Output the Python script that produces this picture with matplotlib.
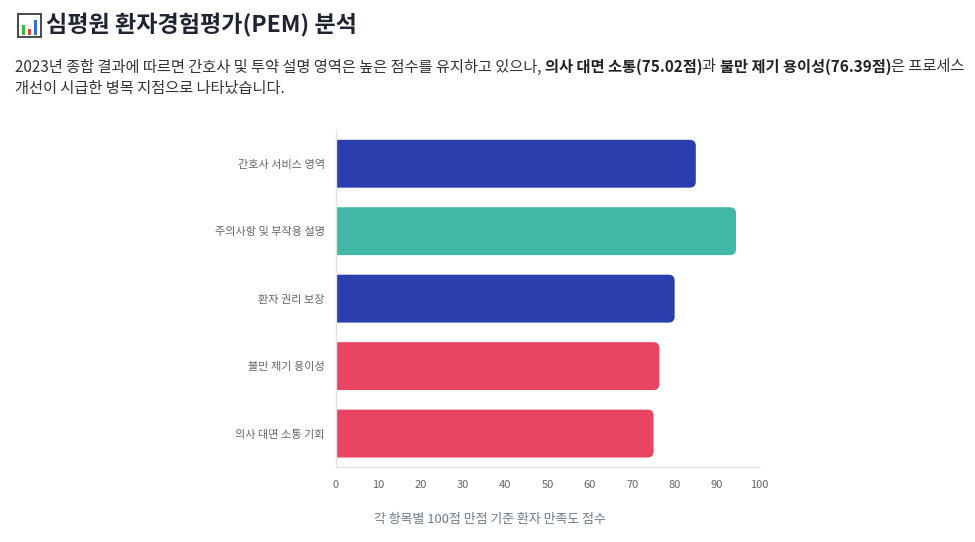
import matplotlib
matplotlib.use('Agg')
import matplotlib.pyplot as plt
from matplotlib.patches import FancyBboxPatch, Rectangle

categories = ['간호사 서비스 영역', '주의사항 및 부작용 설명', '환자 권리 보장',
              '불만 제기 용이성', '의사 대면 소통 기회']
scores = [85.0, 94.5, 80.0, 76.39, 75.02]
bar_colors = ['#2a3fad', '#41b8a5', '#2a3fad', '#e94462', '#e94462']
xticks = list(range(0, 101, 10))
title = '심평원 환자경험평가(PEM) 분석'
xlabel = '각 항목별 100점 만점 기준 환자 만족도 점수'
subtitle_line1 = [
    ('2023년 종합 결과에 따르면 간호사 및 투약 설명 영역은 높은 점수를 유지하고 있으나, ', 'normal'),
    ('의사 대면 소통(75.02점)', 'bold'),
    ('과 ', 'normal'),
    ('불만 제기 용이성(76.39점)', 'bold'),
    ('은 프로세스', 'normal'),
]
subtitle_line2 = [('개선이 시급한 병목 지점으로 나타났습니다.', 'normal')]

FAM = ['Noto Sans CJK KR', 'DejaVu Sans']
plt.rcParams['font.family'] = FAM

W, H = 975, 542
fig = plt.figure(figsize=(W / 100, H / 100), dpi=100)
fig.patch.set_facecolor('white')

ax_l, ax_r, ax_t, ax_b = 336, 759.3, 130, 467.3
ax = fig.add_axes([ax_l / W, (H - ax_b) / H, (ax_r - ax_l) / W, (ax_b - ax_t) / H])

ypos = list(range(len(categories)))
bars = ax.barh(ypos, scores, height=0.71, color=bar_colors)
ax.set_xlim(0, 100)
ax.set_ylim(len(categories) - 0.5, -0.5)

# rounded right corners (left rounding falls outside the axes and is clipped)
xpp = 100 / (ax_r - ax_l)
ypp = len(categories) / (ax_b - ax_t)
asp = ypp / xpp
r = 6 * xpp
for b, c in zip(bars, bar_colors):
    x0, y0 = b.get_x(), b.get_y()
    w, h = b.get_width(), b.get_height()
    b.set_visible(False)
    fb = FancyBboxPatch((x0 - 3 * r, y0), w + 3 * r, h,
                        boxstyle=f'round,pad=0,rounding_size={r}',
                        mutation_aspect=asp, facecolor=c, edgecolor='none', zorder=2)
    ax.add_patch(fb)

ax.set_yticks(ypos)
ax.set_yticklabels(categories)
ax.set_xticks(xticks)
ax.set_xticklabels([str(t) for t in xticks])
ax.tick_params(axis='both', length=0, labelsize=8, labelcolor='#666666')
ax.tick_params(axis='y', pad=8)
ax.tick_params(axis='x', pad=9)
for s in ['top', 'right']:
    ax.spines[s].set_visible(False)
for s in ['left', 'bottom']:
    ax.spines[s].set_color('#e3e3e3')
    ax.spines[s].set_linewidth(1)
    ax.spines[s].set_zorder(3)

fig.text(490 / W, 1 - 520 / H, xlabel, ha='center', va='center', fontsize=9.3, color='#6b7b8c')

# title icon (emoji not available in installed fonts -> drawn as shapes)
def fx(px):
    return px / W


def fy(py):
    return 1 - py / H


fig.patches.append(Rectangle((fx(17.5), fy(37)), 23 / W, 23 / H, transform=fig.transFigure,
                             facecolor='white', edgecolor='#3a3a3a', linewidth=1.3))
for bx, btop, bc in [(21.5, 25, '#3cb83c'), (27.5, 29, '#e0452c'), (33.5, 20, '#2f6fd6')]:
    fig.patches.append(Rectangle((fx(bx), fy(34.5)), 3.5 / W, (34.5 - btop) / H,
                                 transform=fig.transFigure, facecolor=bc, edgecolor='none'))

fig.text(46 / W, 1 - 25 / H, title, ha='left', va='center', fontsize=16.6,
         fontweight='bold', color='#1f2430')

fig.canvas.draw()
renderer = fig.canvas.get_renderer()


def draw_line(segments, x_px, y_px, size=11.0):
    x = x_px
    for txt, wt in segments:
        t = fig.text(x / W, 1 - y_px / H, txt, ha='left', va='center', fontsize=size,
                     fontweight=wt, color='#333333' if wt == 'normal' else '#222222')
        bb = t.get_window_extent(renderer=renderer)
        x = bb.x1


draw_line(subtitle_line1, 15, 67)
draw_line(subtitle_line2, 15, 88)

fig.savefig('out.png', dpi=100, facecolor='white')
